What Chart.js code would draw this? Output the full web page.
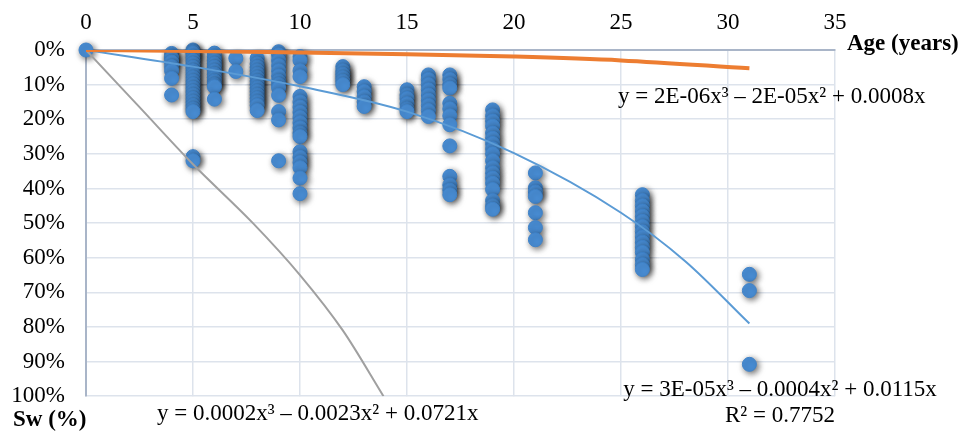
<!DOCTYPE html>
<html>
<head>
<meta charset="utf-8">
<script src="https://cdn.jsdelivr.net/npm/chart.js@4/dist/chart.umd.min.js"></script>
<style>
html,body{margin:0;padding:0;background:#fff;}
canvas{display:block;}
</style>
</head>
<body>
<canvas id="c" width="965" height="431"></canvas>
<script>
// ---- Data ----
// Sample ages (years) and the water saturation values (%) measured at each age
const sampleAges = [0, 4, 5, 6, 7, 8, 9, 10, 12, 13, 15, 16, 17, 19, 21, 26, 31];
const sampleSw = [
  [0],
  [1, 2, 2.4, 3.5, 4.8, 6, 8.2, 13],
  [0, 0.5, 1, 2, 3, 4, 5, 6, 7, 8, 9, 10, 11, 12, 13, 14, 15, 16, 17, 17.8, 30.8, 32],
  [0.9, 2, 3, 4, 5, 6, 7, 8, 9, 10, 10.6, 14.2],
  [2.4, 6.2],
  [2.4, 4, 5, 6, 7, 8, 9, 10, 11, 12, 13, 14, 15, 16, 17.5],
  [0.5, 1.4, 3, 4.5, 6, 7.5, 9, 10, 11, 13.1, 17.8, 20.2, 32],
  [1.9, 3, 6, 7.7, 13.4, 15, 16.5, 18, 19.5, 21, 22.5, 24, 25, 29.4, 31, 32.5, 34, 37, 41.5],
  [4.8, 6, 7, 8, 9, 10],
  [10.6, 12, 13.5, 15, 16.3],
  [11.5, 13, 14, 15.5, 17, 17.8],
  [7.2, 8.5, 10, 11.5, 13, 14.5, 16, 17.5, 19.2],
  [7.2, 8.5, 10, 11, 15.4, 17, 19, 21.6, 27.7, 36.5, 39, 40.5, 41.8],
  [17.3, 19, 20.5, 22, 24, 25.5, 27, 28.5, 30, 32, 34, 35.5, 37, 38.5, 40.3, 43.5, 45, 46],
  [35.5, 39.8, 41, 42.3, 47, 51.3, 54.8],
  [41.8, 43.5, 45, 46.5, 48, 49.5, 51, 52.5, 54, 55.5, 57, 58.5, 60.5, 62, 63.4],
  [64.8, 69.5, 90.8]
];

// Trend curves (age, Sw %)
const orangeTrendX = [0, 5, 10, 15, 20, 25, 31];
const orangeTrendY = [0, 0.3, 0.7, 1.2, 1.9, 3.0, 5.3];
const blueTrendX = [0, 5, 10, 15, 20, 25, 28, 31];
const blueTrendY = [0, 4.8, 10.5, 17.8, 29.8, 47, 61, 79];
const grayTrendX = [0, 2.5, 5, 7.8, 10, 12, 13.9];
const grayTrendY = [0, 16.5, 33, 50, 65, 81, 100];

// Axis ticks
const xTicks = [0, 5, 10, 15, 20, 25, 30, 35];
const yTicks = [0, 10, 20, 30, 40, 50, 60, 70, 80, 90, 100];

// Labels
const xTitle = 'Age (years)';
const yTitle = 'Sw (%)';
const eqOrange = 'y = 2E-06x\u00B3 \u2013 2E-05x\u00B2 + 0.0008x';
const eqBlue = 'y = 3E-05x\u00B3 \u2013 0.0004x\u00B2 + 0.0115x';
const r2Blue = 'R\u00B2 = 0.7752';
const eqGray = 'y = 0.0002x\u00B3 \u2013 0.0023x\u00B2 + 0.0721x';

// ---- Build datasets ----
const points = [];
sampleAges.forEach((a, i) => sampleSw[i].forEach(v => points.push({x: a, y: v})));
const toXY = (xs, ys) => xs.map((x, i) => ({x: x, y: ys[i]}));

const FONT = '"Liberation Serif", "Times New Roman", serif';

const shadowPlugin = {
  id: 'shadow',
  beforeDatasetDraw(chart, args) {
    if (chart.data.datasets[args.index].isPoints) {
      const ctx = chart.ctx;
      ctx.save();
      ctx.shadowColor = 'rgba(0,0,0,0.6)';
      ctx.shadowBlur = 6;
      ctx.shadowOffsetX = 2;
      ctx.shadowOffsetY = 2;
    }
  },
  afterDatasetDraw(chart, args) {
    if (chart.data.datasets[args.index].isPoints) chart.ctx.restore();
  }
};

const textPlugin = {
  id: 'texts',
  afterDraw(chart) {
    const ctx = chart.ctx;
    const a = chart.chartArea;
    ctx.save();
    ctx.fillStyle = '#000';
    ctx.textBaseline = 'alphabetic';
    ctx.font = 'bold 23px ' + FONT;
    ctx.textAlign = 'left';
    ctx.fillText(xTitle, a.right + 12, a.top);
    ctx.fillText(yTitle, 13, a.bottom + 30);
    ctx.font = '23px ' + FONT;
    ctx.fillText(eqOrange, 618, 103);
    ctx.fillText(eqGray, 157, a.bottom + 24);
    ctx.textAlign = 'center';
    ctx.fillText(eqBlue, 780, a.bottom);
    ctx.fillText(r2Blue, 780, a.bottom + 26);
    ctx.restore();
  }
};

new Chart(document.getElementById('c'), {
  type: 'scatter',
  data: {
    datasets: [
      {
        data: toXY(orangeTrendX, orangeTrendY),
        showLine: true, pointRadius: 0, borderColor: '#ed7d31', borderWidth: 4,
        cubicInterpolationMode: 'monotone', fill: false
      },
      {
        data: toXY(blueTrendX, blueTrendY),
        showLine: true, pointRadius: 0, borderColor: '#5b9bd5', borderWidth: 2,
        cubicInterpolationMode: 'monotone', fill: false
      },
      {
        data: toXY(grayTrendX, grayTrendY),
        showLine: true, pointRadius: 0, borderColor: '#a0a0a0', borderWidth: 2,
        cubicInterpolationMode: 'monotone', fill: false
      },
      {
        isPoints: true,
        clip: false,
        data: points,
        pointRadius: 7,
        pointBackgroundColor: '#4a90d9',
        pointBorderColor: '#3f82c8',
        pointBorderWidth: 1
      }
    ]
  },
  options: {
    responsive: false,
    animation: false,
    events: [],
    layout: {padding: {left: 0, top: 0, right: 130, bottom: 34}},
    plugins: {legend: {display: false}, tooltip: {enabled: false}},
    scales: {
      x: {
        type: 'linear', position: 'top', min: 0, max: 35,
        afterBuildTicks(s) { s.ticks = xTicks.map(v => ({value: v})); },
        ticks: {color: '#000', font: {family: FONT, size: 23}, padding: 13, maxRotation: 0, autoSkip: false},
        grid: {color: '#dde3ec', lineWidth: 1.5, drawTicks: false},
        border: {color: '#a9b5c8', width: 2},
        afterFit(s) { s.height = 50; }
      },
      y: {
        type: 'linear', reverse: true, min: 0, max: 100,
        afterBuildTicks(s) { s.ticks = yTicks.map(v => ({value: v})); },
        ticks: {color: '#000', font: {family: FONT, size: 23}, padding: 21, autoSkip: false,
                callback: v => v + '%'},
        grid: {color: '#dde3ec', lineWidth: 1.5, drawTicks: false},
        border: {color: '#a9b5c8', width: 2},
        afterFit(s) { s.width = 86; }
      }
    }
  },
  plugins: [shadowPlugin, textPlugin]
});
</script>
</body>
</html>
